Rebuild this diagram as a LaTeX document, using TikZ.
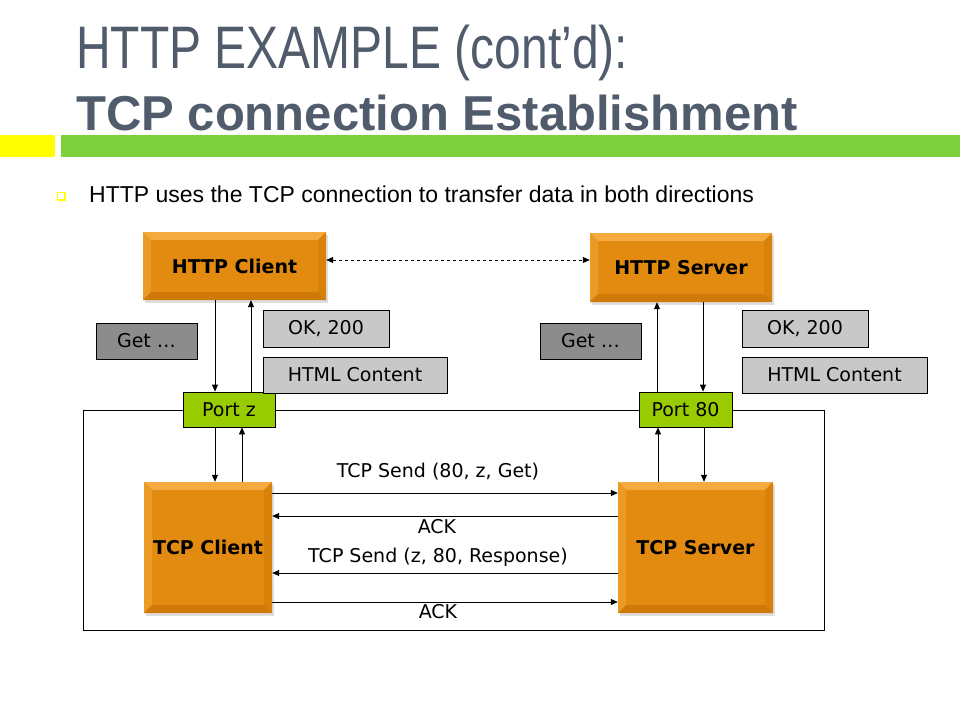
\documentclass[tikz,border=0pt]{standalone}
\usepackage{fontspec}
\usetikzlibrary{arrows.meta,shadows}
\newfontfamily\headfont[FakeStretch=0.80]{Liberation Sans}
\newfontfamily\plainfont{Liberation Sans}
\newfontfamily\diagfont{DejaVu Sans}

\definecolor{headgray}{RGB}{80,91,107}
\definecolor{bargreen}{RGB}{126,208,60}
\definecolor{baryellow}{RGB}{255,255,0}
\definecolor{portgreen}{RGB}{153,204,0}
\definecolor{darkgray}{RGB}{140,140,140}
\definecolor{lightgray}{RGB}{200,200,200}
\definecolor{orangemain}{RGB}{226,139,16}
\definecolor{orangetop}{RGB}{244,170,62}
\definecolor{orangeleft}{RGB}{236,154,38}
\definecolor{orangeright}{RGB}{216,130,12}
\definecolor{orangebottom}{RGB}{206,121,8}

\tikzset{
  bevelbox/.style={rectangle, fill=orangemain, inner sep=0pt,
    font=\diagfont\bfseries\fontsize{19}{22}\selectfont,
    drop shadow={opacity=0.25, shadow xshift=2pt, shadow yshift=-3pt},
    path picture={
      \coordinate (nw) at (path picture bounding box.north west);
      \coordinate (ne) at (path picture bounding box.north east);
      \coordinate (sw) at (path picture bounding box.south west);
      \coordinate (se) at (path picture bounding box.south east);
      \fill[orangetop] (nw) -- (ne) -- ([xshift=-8pt,yshift=-8pt]ne) -- ([xshift=8pt,yshift=-8pt]nw) -- cycle;
      \fill[orangeleft] (nw) -- ([xshift=8pt,yshift=-8pt]nw) -- ([xshift=8pt,yshift=8pt]sw) -- (sw) -- cycle;
      \fill[orangeright] (ne) -- ([xshift=-8pt,yshift=-8pt]ne) -- ([xshift=-8pt,yshift=8pt]se) -- (se) -- cycle;
      \fill[orangebottom] (sw) -- ([xshift=8pt,yshift=8pt]sw) -- ([xshift=-8pt,yshift=8pt]se) -- (se) -- cycle;
    }},
  tagbox/.style={rectangle, draw=black, line width=0.8pt, inner sep=0pt,
    font=\diagfont\fontsize{19}{22}\selectfont},
  portbox/.style={tagbox, fill=portgreen},
  getbox/.style={tagbox, fill=darkgray},
  replybox/.style={tagbox, fill=lightgray},
  msg/.style={font=\diagfont\fontsize{19}{22}\selectfont, inner sep=0pt},
  arr/.style={line width=0.8pt, -{Triangle[length=7pt,width=6pt]}},
}

\begin{document}
\begin{tikzpicture}[x=1pt,y=-1pt]
  \useasboundingbox (0,0) rectangle (960,720);
  \fill[white] (0,0) rectangle (960,720);

  % heading
  \node[anchor=base west, inner sep=0pt, text=headgray,
        font=\headfont\fontsize{60}{66}\selectfont] (head1) at (76,68) {HTTP EXAMPLE (cont’d):};
  \node[anchor=base west, inner sep=0pt, text=headgray,
        font=\plainfont\bfseries\fontsize{49}{55}\selectfont] (head2) at (76,130) {TCP connection Establishment};
  \fill[baryellow] (0,135) rectangle (55,157);
  \fill[bargreen] (61,135) rectangle (960,157);

  % bullet
  \draw[baryellow, line width=1.6pt] (57.5,192.5) rectangle (65,200);
  \node[anchor=base west, inner sep=0pt,
        font=\plainfont\fontsize{23}{26}\selectfont] (bullet) at (89,202)
        {HTTP uses the TCP connection to transfer data in both directions};

  % frame around the TCP layer
  \draw[line width=0.8pt] (83,410) rectangle (824,630);

  % application layer
  \node[bevelbox, minimum width=183pt, minimum height=68pt] (hc) at (234.5,266) {HTTP Client};
  \node[bevelbox, minimum width=182pt, minimum height=69pt] (hs) at (681,267.5) {HTTP Server};

  % transport layer
  \node[bevelbox, minimum width=128pt, minimum height=131pt] (tc) at (208,547.5) {TCP Client};
  \node[bevelbox, minimum width=155pt, minimum height=131pt] (ts) at (695.5,547.5) {TCP Server};

  % ports
  \node[portbox, minimum width=92pt, minimum height=35pt] (pz) at (229,409.5) {Port z};
  \node[portbox, minimum width=93pt, minimum height=35pt] (p80) at (685.5,409.5) {Port 80};

  % message tags
  \node[getbox, minimum width=101pt, minimum height=36pt] (getL) at (146.5,341) {Get …};
  \node[replybox, minimum width=126pt, minimum height=37pt] (okL) at (326,328.5) {OK, 200};
  \node[replybox, minimum width=184pt, minimum height=36pt] (htmlL) at (355,375) {HTML Content};
  \node[getbox, minimum width=101pt, minimum height=36pt] (getR) at (590.5,341) {Get …};
  \node[replybox, minimum width=126pt, minimum height=37pt] (okR) at (805,328.5) {OK, 200};
  \node[replybox, minimum width=185pt, minimum height=36pt] (htmlR) at (834.5,375) {HTML Content};

  % HTTP peers
  \draw[line width=0.8pt, dashed, {Triangle[length=7pt,width=6pt]}-{Triangle[length=7pt,width=6pt]}]
    ([yshift=6pt]hc.east) -- ([yshift=6pt]hc.east -| hs.west);

  % client side vertical links
  \draw[arr] ([xshift=-19.5pt]hc.south) -- ([xshift=-19.5pt]hc.south |- pz.north);
  \draw[arr] ([xshift=16.5pt]hc.south |- pz.north) -- ([xshift=16.5pt]hc.south);
  \draw[arr] ([xshift=7pt]tc.north |- pz.south) -- ([xshift=7pt]tc.north);
  \draw[arr] ([xshift=34pt]tc.north) -- ([xshift=34pt]tc.north |- pz.south);

  % server side vertical links
  \draw[arr] ([xshift=-24pt]hs.south |- p80.north) -- ([xshift=-24pt]hs.south);
  \draw[arr] ([xshift=22pt]hs.south) -- ([xshift=22pt]hs.south |- p80.north);
  \draw[arr] ([xshift=-37.5pt]ts.north) -- ([xshift=-37.5pt]ts.north |- p80.south);
  \draw[arr] ([xshift=8.5pt]ts.north |- p80.south) -- ([xshift=8.5pt]ts.north);

  % TCP exchange
  \draw[arr] ([yshift=54.5pt]tc.east) -- ([yshift=54.5pt]tc.east -| ts.west);
  \draw[arr] ([yshift=31.5pt]tc.east -| ts.west) -- ([yshift=31.5pt]tc.east);
  \draw[arr] ([yshift=-25.5pt]tc.east -| ts.west) -- ([yshift=-25.5pt]tc.east);
  \draw[arr] ([yshift=-54.5pt]tc.east) -- ([yshift=-54.5pt]tc.east -| ts.west);

  \node[msg] (m1) at (438,472) {TCP Send (80, z, Get)};
  \node[msg] (m2) at (437,527) {ACK};
  \node[msg] (m3) at (438,557) {TCP Send (z, 80, Response)};
  \node[msg] (m4) at (438,612) {ACK};
\end{tikzpicture}
\end{document}
